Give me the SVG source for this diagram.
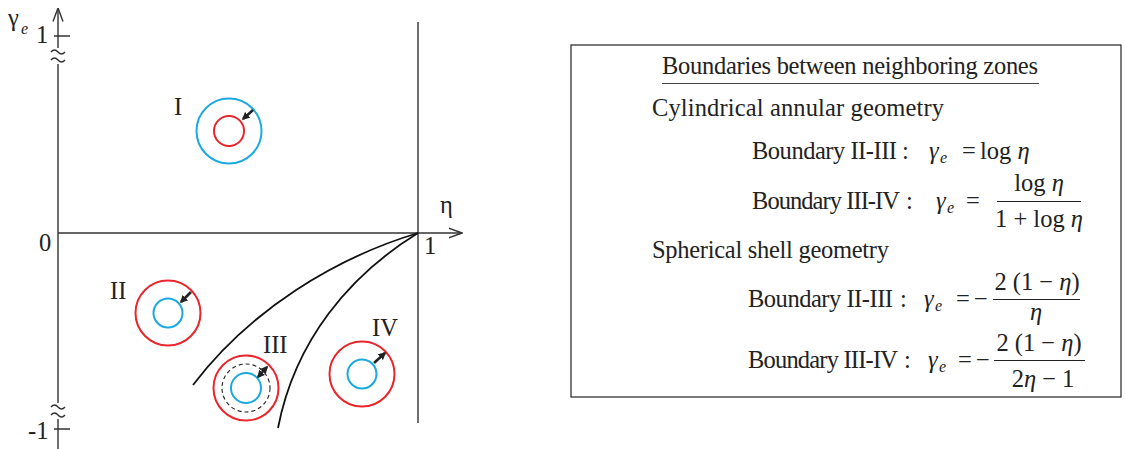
<svg xmlns="http://www.w3.org/2000/svg" width="1125" height="449" viewBox="0 0 1125 449">
<style>
.t{font-family:"Liberation Serif","Times New Roman",serif;font-size:24.5px;fill:#222}
.m{font-family:"Liberation Serif","Times New Roman",serif;font-size:24.5px;font-style:italic;fill:#222}
.s{font-family:"Liberation Serif","Times New Roman",serif;font-size:16px;font-style:italic;fill:#222}
.ax{stroke:#333;stroke-width:1.4;fill:none}
.cv{stroke:#111;stroke-width:1.8;fill:none}
.red{stroke:#e8262c;stroke-width:2;fill:none}
.blue{stroke:#1aa9e0;stroke-width:2;fill:none}
.ar{stroke:#222;stroke-width:2.6;fill:none}
.bar{stroke:#222;stroke-width:1.1}
</style>
<defs>
<marker id="ah" viewBox="0 0 10 10" refX="8" refY="5" markerWidth="3" markerHeight="3" orient="auto-start-reverse"><path d="M0,0 L10,5 L0,10 z" fill="#222"/></marker>
<marker id="axh" viewBox="0 0 14 12" refX="13.5" refY="6" markerWidth="14" markerHeight="12" markerUnits="userSpaceOnUse" orient="auto"><path d="M0,1 L13.5,6 L0,11" fill="none" stroke="#333" stroke-width="1.4"/></marker>
</defs>
<g id="axes">
<path class="ax" d="M58,48 L58,8" marker-end="url(#axh)"/>
<path class="ax" d="M58,64 L58,403"/>
<path class="ax" d="M58,419 L58,449"/>
<path class="ax" d="M54,36 L70,36 M54,429 L70,429"/>
<path class="ax" d="M51,52 q3.5,-4 7,0 t7,0 M51,60 q3.5,-4 7,0 t7,0"/>
<path class="ax" d="M51,407 q3.5,-4 7,0 t7,0 M51,415 q3.5,-4 7,0 t7,0"/>
<path class="ax" d="M58,233 L462,233" marker-end="url(#axh)"/>
<path class="ax" d="M418,22 L418,423"/>
<text class="t" x="8" y="26" font-size="26">γ</text><text class="s" x="21" y="34">e</text>
<text class="t" x="36" y="43" font-size="24">1</text>
<text class="t" x="28" y="439" font-size="24">-1</text>
<text class="t" x="39" y="251" font-size="25">0</text>
<text class="t" x="424" y="254" font-size="24">1</text>
<text class="t" x="440" y="213" font-size="28">η</text>
</g>
<g id="connectors">
<path class="cv" d="M418,233 C335,258 250,310 193,385"/>
<path class="cv" d="M418,233 C350,275 295,340 278,428"/>
</g>
<g id="zone-I">
<circle class="blue" cx="229" cy="131" r="32.5"/>
<circle class="red" cx="229" cy="131" r="15"/>
<path class="ar" d="M253,110 L243,119" marker-end="url(#ah)"/>
<text class="t" x="174" y="115" font-size="26">I</text>
</g>
<g id="zone-II">
<circle class="red" cx="168" cy="313" r="32.5"/>
<circle class="blue" cx="168" cy="313" r="14.5"/>
<path class="ar" d="M191,292 L181,302" marker-end="url(#ah)"/>
<text class="t" x="110" y="299" font-size="26">II</text>
</g>
<g id="zone-III">
<circle class="red" cx="246" cy="388" r="32.5"/>
<circle cx="246" cy="388" r="24" fill="none" stroke="#222" stroke-width="1.1" stroke-dasharray="4,3"/>
<circle class="blue" cx="246" cy="388" r="15"/>
<path class="ar" d="M267,367 L258,377" marker-start="url(#ah)" marker-end="url(#ah)" stroke-width="2"/>
<text class="t" x="263" y="353" font-size="26">III</text>
</g>
<g id="zone-IV">
<circle class="red" cx="362" cy="374" r="32.5"/>
<circle class="blue" cx="362" cy="374" r="14.5"/>
<path class="ar" d="M374,363 L385,353" marker-end="url(#ah)"/>
<text class="t" x="372" y="336" font-size="26">IV</text>
</g>
<g id="legend">
<rect x="571" y="45" width="550" height="352" fill="#fff" stroke="#222" stroke-width="1.2"/>
<text class="t" x="662" y="74" textLength="376">Boundaries between neighboring zones</text>
<path d="M662,83.5 L1039,83.5" stroke="#444" stroke-width="1.2"/>
<text class="t" x="652" y="116" textLength="292">Cylindrical annular geometry</text>
<text class="t" x="752" y="159" textLength="145">Boundary II-III</text><text class="t" x="902" y="159">:</text>
<text class="m" x="929" y="159">γ</text><text class="s" x="940" y="163">e</text>
<text class="t" x="962" y="159">=</text>
<text class="t" x="980" y="159">log <tspan font-style="italic">η</tspan></text>
<text class="t" x="752" y="209" textLength="148">Boundary III-IV</text><text class="t" x="906" y="209">:</text>
<text class="m" x="936" y="209">γ</text><text class="s" x="947" y="213">e</text>
<text class="t" x="966" y="209">=</text>
<text class="t" x="1039" y="191" text-anchor="middle">log <tspan font-style="italic">η</tspan></text>
<path class="bar" d="M997,201.5 L1081,201.5"/>
<text class="t" x="1039" y="227" text-anchor="middle">1 + log <tspan font-style="italic">η</tspan></text>
<text class="t" x="652" y="258" textLength="237">Spherical shell geometry</text>
<text class="t" x="748" y="307" textLength="145">Boundary II-III</text><text class="t" x="900" y="307">:</text>
<text class="m" x="924" y="307">γ</text><text class="s" x="935" y="311">e</text>
<text class="t" x="956" y="307">=</text>
<text class="t" x="974" y="307">−</text>
<text class="t" x="1037" y="290" text-anchor="middle">2 (1 − <tspan font-style="italic">η</tspan>)</text>
<path class="bar" d="M993,299.5 L1080,299.5"/>
<text class="m" x="1036" y="320" text-anchor="middle">η</text>
<text class="t" x="748" y="368" textLength="150">Boundary III-IV</text><text class="t" x="904" y="368">:</text>
<text class="m" x="928" y="368">γ</text><text class="s" x="939" y="372">e</text>
<text class="t" x="958" y="368">=</text>
<text class="t" x="976" y="368">−</text>
<text class="t" x="1039" y="351" text-anchor="middle">2 (1 − <tspan font-style="italic">η</tspan>)</text>
<path class="bar" d="M994,360.5 L1085,360.5"/>
<text class="t" x="1043" y="387" text-anchor="middle">2<tspan font-style="italic">η</tspan> − 1</text>
</g>
</svg>
